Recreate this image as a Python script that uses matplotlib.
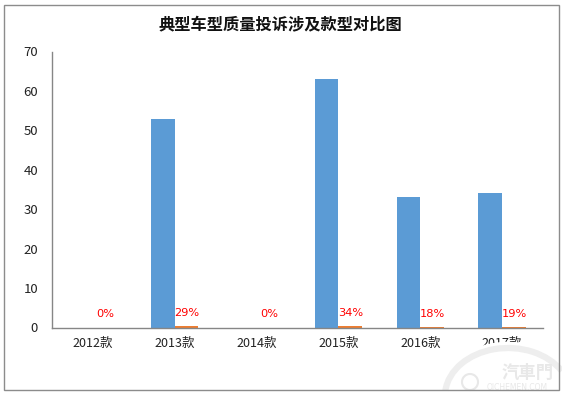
import matplotlib
matplotlib.use('Agg')
import matplotlib.pyplot as plt
import numpy as np
from matplotlib.patches import Rectangle, Arc

plt.rcParams['font.family'] = ['Noto Sans CJK SC', 'DejaVu Sans']

categories = ['2012款', '2013款', '2014款', '2015款', '2016款', '2017款']
complaints = [0, 53, 0, 63, 33, 34]
shares = [0, 0.29, 0, 0.34, 0.18, 0.19]
share_labels = ['0%', '29%', '0%', '34%', '18%', '19%']
label_heights = [3.3, 3.7, 3.3, 3.7, 3.3, 3.3]
y_ticks = [0, 10, 20, 30, 40, 50, 60, 70]

W, H = 562, 395
fig = plt.figure(figsize=(W / 100, H / 100), dpi=100)

# outer chart frame
fig.add_artist(Rectangle((4 / W, 1 - 390 / H), 555 / W, 385 / H, transform=fig.transFigure,
                         fill=False, edgecolor='#8C8C8C', linewidth=1.0))

ax = fig.add_axes([52 / W, 1 - 327.5 / H, 491 / W, 276 / H])
x = np.arange(len(categories))
bar_w = 0.29
ax.bar(x - bar_w / 2, complaints, bar_w, color='#5B9BD5')
ax.bar(x + bar_w / 2, shares, bar_w, color='#ED7D31')

for i, lab in enumerate(share_labels):
    ax.text(x[i] + 0.15, label_heights[i], lab, color='red', fontsize=8.2,
            ha='center', va='center', family='DejaVu Sans')

ax.set_xlim(-0.5, 5.5)
ax.set_ylim(0, 70)
ax.set_xticks(x)
ax.set_xticklabels(categories, fontsize=9, color='#222222')
ax.set_yticks(y_ticks)
ax.tick_params(axis='y', length=0, labelsize=9.5, labelcolor='#222222', pad=10)
ax.tick_params(axis='x', length=0, pad=6.5)
for s in ['top', 'right']:
    ax.spines[s].set_visible(False)
for s in ['left', 'bottom']:
    ax.spines[s].set_color('#868686')
    ax.spines[s].set_linewidth(1.0)

fig.text(280 / W, 1 - 25 / H, '典型车型质量投诉涉及款型对比图', fontsize=11.7, fontweight='bold',
         ha='center', va='center', color='#111111')

# watermark, drawn in figure pixels over the chart
wm = fig.add_axes([0, 0, 1, 1], facecolor='none')
wm.set_xlim(0, W)
wm.set_ylim(H, 0)
wm.axis('off')
wm.add_patch(Arc((508, 396), 126, 96, theta1=200, theta2=335, color='white', linewidth=9))
wm.add_patch(Arc((508, 396), 126, 96, theta1=185, theta2=335, color='#EEEEEE', linewidth=4.5))
wm.add_patch(Arc((470, 382), 16, 16, color='#E8E8E8', linewidth=1.5))
wm.text(528, 373, '汽車門', fontsize=12.5, fontweight='bold', color='#E8E8E8', ha='center', va='center')
wm.text(517, 387.5, 'QICHEMEN.COM', fontsize=5.5, color='#E8E8E8', ha='center', va='center',
        family='DejaVu Sans')

fig.savefig('out.png', dpi=100)
